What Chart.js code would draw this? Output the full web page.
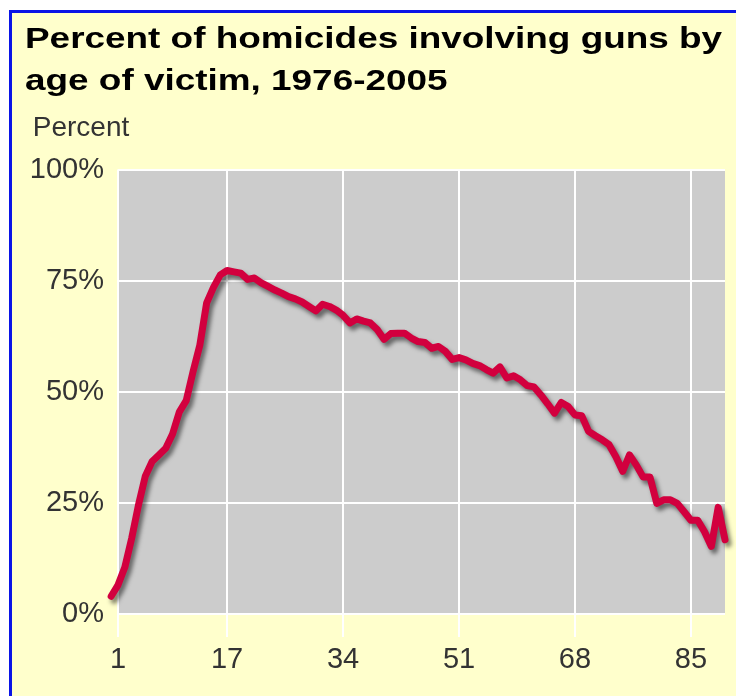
<!DOCTYPE html>
<html>
<head>
<meta charset="utf-8">
<script src="https://cdn.jsdelivr.net/npm/chart.js@4.4.1/dist/chart.umd.min.js"></script>
<style>
  html, body { margin: 0; padding: 0; width: 736px; height: 696px; overflow: hidden; background: #ffffff; }
  #frame { position: absolute; left: 9px; top: 10px; width: 900px; height: 900px;
           border: 3px solid #0a14e6; background: #ffffcc; }
  #wrap { position: absolute; left: 0; top: 0; width: 736px; height: 696px; }
</style>
</head>
<body>
<div id="frame"></div>
<div id="wrap"><canvas id="chart"></canvas></div>
<script>
// Share of homicide victims killed with a gun, by the victim's age (1976-2005)
const titleLines = ['Percent of homicides involving guns by', 'age of victim, 1976-2005'];
const yAxisCaption = 'Percent';

const ages = [
  0, 1, 2, 3, 4, 5, 6, 7, 8, 9,
  10, 11, 12, 13, 14, 15, 16, 17, 18, 19,
  20, 21, 22, 23, 24, 25, 26, 27, 28, 29,
  30, 31, 32, 33, 34, 35, 36, 37, 38, 39,
  40, 41, 42, 43, 44, 45, 46, 47, 48, 49,
  50, 51, 52, 53, 54, 55, 56, 57, 58, 59,
  60, 61, 62, 63, 64, 65, 66, 67, 68, 69,
  70, 71, 72, 73, 74, 75, 76, 77, 78, 79,
  80, 81, 82, 83, 84, 85, 86, 87, 88, 89,
  90
];

const gunPercent = [
  4.0, 6.5, 10.5, 17.0, 24.5, 31.0, 34.3, 35.8, 37.3, 40.5,
  45.5, 48.0, 54.5, 60.5, 70.0, 73.5, 76.3, 77.3, 77.0, 76.7,
  75.3, 75.6, 74.5, 73.7, 72.9, 72.2, 71.4, 70.9, 70.2, 69.2,
  68.2, 69.7, 69.2, 68.4, 67.2, 65.5, 66.4, 65.9, 65.5, 64.0,
  61.8, 63.1, 63.2, 63.2, 62.1, 61.3, 61.1, 59.8, 60.2, 59.1,
  57.3, 57.7, 57.2, 56.4, 55.9, 55.0, 54.2, 55.6, 53.1, 53.6,
  52.7, 51.4, 51.1, 49.3, 47.3, 45.2, 47.6, 46.7, 44.8, 44.6,
  41.1, 40.1, 39.2, 38.1, 35.4, 32.1, 35.8, 33.5, 30.8, 30.8,
  24.9, 25.7, 25.7, 24.9, 23.0, 21.1, 21.1, 18.5, 15.2, 24.0,
  16.7
];

const xTickValues = [1, 17, 34, 51, 68, 85];
const yTickValues = [0, 25, 50, 75, 100];

const FONT = "'Liberation Sans', Arial, Helvetica, sans-serif";

// Grey plotting field behind the grid
const plotBackground = {
  id: 'plotBackground',
  beforeDraw(chart) {
    const { ctx, chartArea: a } = chart;
    ctx.save();
    ctx.fillStyle = '#cccccc';
    ctx.fillRect(a.left, a.top, a.right - a.left, a.bottom - a.top);
    ctx.restore();
  }
};

// Soft drop shadow under the line
const lineShadow = {
  id: 'lineShadow',
  beforeDatasetDraw(chart) {
    const ctx = chart.ctx;
    ctx.save();
    ctx.shadowColor = 'rgba(0,0,0,0.5)';
    ctx.shadowBlur = 4;
    ctx.shadowOffsetX = 3;
    ctx.shadowOffsetY = 4;
  },
  afterDatasetDraw(chart) {
    chart.ctx.restore();
  }
};

const chart = new Chart(document.getElementById('chart'), {
  type: 'line',
  data: {
    datasets: [{
      data: ages.map((a, i) => ({ x: a, y: gunPercent[i] })),
      borderColor: '#d2003e',
      borderWidth: 7,
      borderJoinStyle: 'round',
      borderCapStyle: 'round',
      pointRadius: 0,
      tension: 0,
      fill: false,
      clip: false
    }]
  },
  options: {
    responsive: true,
    maintainAspectRatio: false,
    animation: false,
    events: [],
    layout: { padding: { left: 25, right: 11, top: 19, bottom: 13 } },
    plugins: {
      legend: { display: false },
      tooltip: { enabled: false },
      title: {
        display: true,
        text: titleLines,
        align: 'start',
        color: '#000000',
        font: { family: FONT, size: 30, weight: 'bold', lineHeight: 1.4 },
        padding: { top: 0, bottom: 8 }
      },
      subtitle: {
        display: true,
        text: ' ' + yAxisCaption,
        align: 'start',
        color: '#333333',
        font: { family: FONT, size: 28, weight: 'normal', lineHeight: 1.2 },
        padding: { top: 0, bottom: 25 }
      }
    },
    scales: {
      x: {
        type: 'linear',
        min: 1,
        max: 90,
        afterBuildTicks: s => { s.ticks = xTickValues.map(v => ({ value: v })); },
        grid: { color: '#ffffff', lineWidth: 2, drawTicks: true, tickLength: 23 },
        border: { display: false },
        ticks: { color: '#333333', font: { family: FONT, size: 29 }, padding: 5.6, maxRotation: 0, autoSkip: false }
      },
      y: {
        min: 0,
        max: 100,
        afterBuildTicks: s => { s.ticks = yTickValues.map(v => ({ value: v })); },
        afterFit: s => { s.width = 93; },
        grid: { color: '#ffffff', lineWidth: 2, drawTicks: false },
        border: { display: false },
        ticks: { color: '#333333', font: { family: FONT, size: 29 }, padding: 14, callback: v => v + '%' }
      }
    }
  },
  plugins: [plotBackground, lineShadow]
});

// The heading uses a horizontally widened bold face
const titleBox = chart.titleBlock;
if (titleBox) {
  const baseDraw = titleBox.draw;
  titleBox.draw = function (...args) {
    const c = this.ctx;
    const x0 = this.left;
    c.save();
    c.translate(x0, 0);
    c.scale(1.23, 1);
    c.translate(-x0, 0);
    baseDraw.apply(this, args);
    c.restore();
  };
  chart.draw();
}
</script>
</body>
</html>
